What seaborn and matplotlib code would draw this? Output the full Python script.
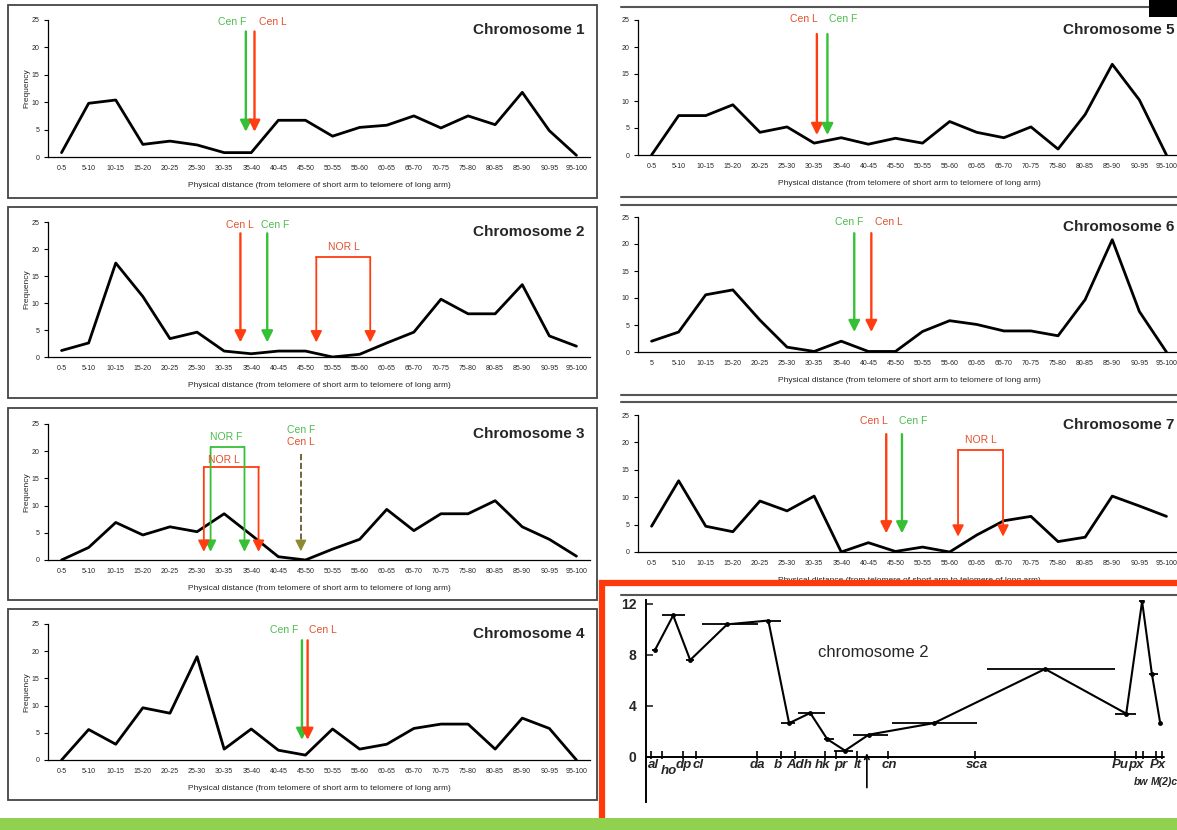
import numpy as np
import pandas as pd
import matplotlib
matplotlib.use('Agg')
import matplotlib.pyplot as plt
import matplotlib.patches as mpatches
from matplotlib.lines import Line2D
import seaborn as sns

# ---- data ----
bins = ['0-5', '5-10', '10-15', '15-20', '20-25', '25-30', '30-35', '35-40',
        '40-45', '45-50', '50-55', '55-60', '60-65', '65-70', '70-75', '75-80',
        '80-85', '85-90', '90-95', '95-100']
bins_chr6 = ['5'] + bins[1:]

chr1_freq = [0.8, 9.8, 10.4, 2.3, 2.9, 2.2, 0.8, 0.8, 6.7, 6.7,
             3.8, 5.4, 5.8, 7.5, 5.3, 7.5, 5.9, 11.8, 4.8, 0.3]
chr2_freq = [1.2, 2.6, 17.4, 11.2, 3.4, 4.6, 1.1, 0.6, 1.1, 1.1,
             0.0, 0.5, 2.6, 4.6, 10.7, 8.0, 8.0, 13.4, 3.9, 2.0]
chr3_freq = [0.0, 2.3, 6.9, 4.6, 6.1, 5.2, 8.5, 4.6, 0.6, 0.0,
             2.0, 3.8, 9.3, 5.4, 8.5, 8.5, 10.9, 6.1, 3.8, 0.7]
chr4_freq = [0.0, 5.6, 2.9, 9.6, 8.6, 19.0, 2.0, 5.7, 1.8, 0.9,
             5.7, 2.0, 2.9, 5.8, 6.6, 6.6, 2.0, 7.7, 5.8, 0.0]
chr5_freq = [0.0, 7.3, 7.3, 9.3, 4.2, 5.2, 2.2, 3.2, 2.0, 3.1,
             2.2, 6.2, 4.2, 3.2, 5.2, 1.1, 7.5, 16.8, 10.2, 0.0]
chr6_freq = [2.0, 3.7, 10.6, 11.5, 5.9, 0.9, 0.1, 2.0, 0.1, 0.1,
             3.8, 5.8, 5.1, 3.9, 3.9, 3.0, 9.7, 20.8, 7.5, 0.0]
chr7_freq = [4.7, 13.0, 4.7, 3.7, 9.3, 7.5, 10.2, 0.0, 1.7, 0.1,
             0.9, 0.0, 3.1, 5.7, 6.5, 1.9, 2.7, 10.2, 8.4, 6.5]

# marker arrows: (bin position, start value, tip value, colour key)
chr1_arrows = [(6.8, 22.9, 4.6, 'F'), (7.12, 22.9, 4.6, 'L')]
chr2_arrows = [(6.6, 22.9, 2.7, 'L'), (7.59, 22.9, 2.7, 'F')]
chr3_arrows = []
chr4_arrows = [(8.87, 22.0, 3.7, 'F'), (9.08, 22.0, 3.7, 'L')]
chr5_arrows = [(6.1, 22.4, 3.7, 'L'), (6.49, 22.4, 3.7, 'F')]
chr6_arrows = [(7.48, 22.0, 3.7, 'F'), (8.11, 22.0, 3.7, 'L')]
chr7_arrows = [(8.66, 21.5, 3.4, 'L'), (9.24, 21.5, 3.4, 'F')]

# NOR brackets: (left pos, right pos, top value, tip value, colour key)
chr2_nor = [(9.4, 11.39, 18.5, 2.7, 'L')]
chr3_nor = [(5.5, 6.75, 20.8, 1.5, 'F'), (5.25, 7.27, 17.1, 1.5, 'L')]
chr7_nor = [(11.31, 12.97, 18.6, 2.8, 'L')]

# labels: (text, pos, value, colour key)
chr1_labels = [('Cen F', 6.28, 24.7, 'F'), ('Cen L', 7.79, 24.7, 'L')]
chr2_labels = [('Cen L', 6.57, 24.4, 'L'), ('Cen F', 7.9, 24.4, 'F'),
               ('NOR L', 10.4, 20.4, 'L')]
chr3_labels = [('NOR F', 6.07, 22.7, 'F'), ('NOR L', 6.0, 18.4, 'L'),
               ('Cen F', 8.83, 23.9, 'F'), ('Cen L', 8.83, 21.6, 'L')]
chr4_labels = [('Cen F', 8.23, 23.9, 'F'), ('Cen L', 9.65, 23.9, 'L')]
chr5_labels = [('Cen L', 5.63, 25.2, 'L'), ('Cen F', 7.06, 25.2, 'F')]
chr6_labels = [('Cen F', 7.28, 24.0, 'F'), ('Cen L', 8.74, 24.0, 'L')]
chr7_labels = [('Cen L', 8.22, 23.9, 'L'), ('Cen F', 9.65, 23.9, 'F'),
               ('NOR L', 12.15, 20.5, 'L')]

# chromosome 3 shared centromere (dashed)
chr3_cen_shared = (8.83, 19.5, 1.6)

# old genetic-map chromosome 2 chart
map_x = [2.4, 7.2, 11.7, 21.5, 32.4, 37.9, 43.5, 48.0,
         52.7, 59.0, 76.2, 105.7, 127.2, 131.4, 134.0, 136.2]
map_y = [8.4, 11.1, 7.6, 10.4, 10.7, 2.65, 3.45, 1.4,
         0.5, 1.75, 2.65, 6.9, 3.4, 12.2, 6.5, 2.65]
map_lo = [1.7, 4.2, 10.7, 14.7, 31.7, 35.7, 40.2, 47.2,
          49.9, 54.9, 65.2, 90.2, 124.2, 130.7, 133.2, 135.8]
map_hi = [2.7, 10.2, 12.7, 29.7, 35.7, 39.5, 47.5, 49.7,
          54.9, 64.2, 87.7, 124.2, 129.7, 131.9, 135.5, 136.6]
genes = ['al', 'ho', 'dp', 'cl', 'da', 'b', 'Adh', 'hk', 'pr', 'lt',
         'cn', 'sca', 'Pu', 'px', 'bw', 'Px', 'M(2)c']
gene_tick = [1.4, 4.2, 9.9, 13.2, 29.4, 35.7, 39.4, 47.4, 50.2, 55.9,
             64.2, 87.2, 124.2, 129.7, 131.7, 135.2, 136.7]
gene_label_x = [1.9, 6.0, 9.9, 13.9, 29.5, 34.9, 40.7, 46.7, 51.5, 56.2,
                64.5, 87.7, 125.7, 129.9, 131.0, 135.5, 137.3]
gene_row = [0, 1, 0, 0, 0, 0, 0, 0, 0, 0, 0, 0, 0, 0, 2, 0, 2]

GREEN = '#35c035'
RED = '#ff3d10'
TXT = {'F': '#4cbc4c', 'L': '#e4502c'}
COL = {'F': GREEN, 'L': RED}

sns.set_style('white')
plt.rcParams['font.family'] = ['Liberation Sans', 'DejaVu Sans']

W, H = 1177, 830
fig = plt.figure(figsize=(W / 100, H / 100), dpi=100)
fig.patch.set_facecolor('white')


def px_axes(x0, y0, x1, y1):
    return fig.add_axes([x0 / W, 1 - y1 / H, (x1 - x0) / W, (y1 - y0) / H])


def arrow(ax, x, y0, y1, color, lw=1.7):
    ax.annotate('', xy=(x, y1), xytext=(x, y0),
                arrowprops=dict(arrowstyle='-|>', color=color, lw=lw,
                                mutation_scale=17, shrinkA=0, shrinkB=0))


def chrom_panel(rect, freq, labels_x, title, arrows, nors, labels, ylab=True):
    ax = px_axes(*rect)
    df = pd.DataFrame({'pos': np.arange(len(freq)), 'freq': freq})
    sns.lineplot(data=df, x='pos', y='freq', ax=ax, color='black', lw=2.0)
    ax.set_xlim(-0.5, 19.5)
    ax.set_ylim(0, 25)
    ax.set_yticks([0, 5, 10, 15, 20, 25])
    ax.set_xticks(np.arange(20))
    ax.set_xticklabels(labels_x, fontsize=5)
    ax.set_xticks(np.arange(-0.5, 20, 1), minor=True)
    ax.tick_params(axis='x', which='major', length=0, pad=6)
    ax.tick_params(axis='x', which='minor', length=3, width=0.8,
                   direction='out', color='black')
    ax.tick_params(axis='y', length=3, width=0.8, direction='out',
                   labelsize=5, pad=3, color='black', left=True)
    sns.despine(ax=ax)
    for s in ['left', 'bottom']:
        ax.spines[s].set_color('black')
        ax.spines[s].set_linewidth(0.9)
    ax.set_xlabel('Physical distance (from telomere of short arm to telomere '
                  'of long arm)', fontsize=6, labelpad=7)
    if ylab:
        ax.set_ylabel('Frequency', fontsize=6, labelpad=1)
    else:
        ax.set_ylabel('')
    ax.text(19.3, 23.2, title, ha='right', va='center', fontsize=11,
            fontweight='bold')
    for x, y0, y1, k in arrows:
        arrow(ax, x, y0, y1, COL[k])
    for xa, xb, top, tip, k in nors:
        ax.plot([xa, xb], [top, top], color=COL[k], lw=1.3)
        arrow(ax, xa, top, tip, COL[k], lw=1.3)
        arrow(ax, xb, top, tip, COL[k], lw=1.3)
    for t, x, y, k in labels:
        ax.text(x, y, t, ha='center', va='center', fontsize=7.5,
                color=TXT[k])
    ax.set_facecolor('none')
    return ax


left_x = (48, 590)
right_x = (638, 1180)

chrom_panel((left_x[0], 20, left_x[1], 157), chr1_freq, bins, 'Chromosome 1',
            chr1_arrows, [], chr1_labels)
chrom_panel((left_x[0], 222, left_x[1], 357), chr2_freq, bins, 'Chromosome 2',
            chr2_arrows, chr2_nor, chr2_labels)
ax3 = chrom_panel((left_x[0], 424, left_x[1], 560), chr3_freq, bins,
                  'Chromosome 3', chr3_arrows, chr3_nor, chr3_labels)
cx, cy0, cy1 = chr3_cen_shared
ax3.plot([cx, cx], [cy0, cy1 + 1.6], ls='--', color='#5a4a1c', lw=1.2)
ax3.annotate('', xy=(cx, cy1), xytext=(cx, cy1 + 1.7),
             arrowprops=dict(arrowstyle='-|>', color='#8e8a30', lw=1.0,
                             mutation_scale=17, shrinkA=0, shrinkB=0))
chrom_panel((left_x[0], 624, left_x[1], 760), chr4_freq, bins, 'Chromosome 4',
            chr4_arrows, [], chr4_labels)
chrom_panel((right_x[0], 20, right_x[1], 155), chr5_freq, bins, 'Chromosome 5',
            chr5_arrows, [], chr5_labels, ylab=False)
chrom_panel((right_x[0], 217, right_x[1], 352), chr6_freq, bins_chr6,
            'Chromosome 6', chr6_arrows, [], chr6_labels, ylab=False)
chrom_panel((right_x[0], 415, right_x[1], 552), chr7_freq, bins, 'Chromosome 7',
            chr7_arrows, chr7_nor, chr7_labels, ylab=False)

# frames of left column
for y0, y1 in [(5, 198), (207, 398), (408, 600), (609, 800)]:
    fig.add_artist(mpatches.Rectangle((8 / W, 1 - y1 / H), 589 / W,
                                      (y1 - y0) / H, transform=fig.transFigure,
                                      fill=False, edgecolor='#444444', lw=1.3,
                                      zorder=3))
# frame lines of right column
for y, xe in [(7, 1149), (197, 1177), (205, 1177), (395, 1177), (402, 1177),
              (595, 1177)]:
    fig.add_artist(Line2D([621 / W, xe / W], [1 - y / H, 1 - y / H],
                          transform=fig.transFigure, color='#555555', lw=1.5,
                          zorder=7))

# red highlight box
fig.add_artist(mpatches.Rectangle((602 / W, 1 - 845 / H), 600 / W, 262 / H,
                                  transform=fig.transFigure, facecolor='white',
                                  edgecolor='none', zorder=4))
fig.add_artist(mpatches.Rectangle((602 / W, 1 - 845 / H), 600 / W, 262 / H,
                                  transform=fig.transFigure, fill=False,
                                  edgecolor='#ff3a0a', lw=4.5, zorder=8))

# old genetic map chart
axm = px_axes(646, 600, 1164, 802)
axm.set_zorder(6)
axm.set_facecolor('none')
mdf = pd.DataFrame({'x': map_x, 'y': map_y})
sns.lineplot(data=mdf, x='x', y='y', ax=axm, color='black', lw=1.5,
             marker='o', markersize=3.5, markeredgewidth=0)
axm.errorbar(map_x, map_y,
             xerr=[np.array(map_x) - np.array(map_lo),
                   np.array(map_hi) - np.array(map_x)],
             fmt='none', ecolor='black', elinewidth=1.3, capsize=0)
axm.set_xlim(0, 137.2)
axm.set_ylim(-3.53, 12.31)
axm.plot([0, 137.2], [0, 0], color='black', lw=1.4, clip_on=False)
axm.vlines(gene_tick, -0.15, 0.45, color='black', lw=1.2, clip_on=False)
for g, gx, r in zip(genes, gene_label_x, gene_row):
    gy = [-0.15, -0.65, -1.6][r]
    fs = 7.5 if r == 2 else 9.5
    axm.text(gx, gy, g, ha='center', va='top', fontsize=fs,
             fontstyle='italic', fontweight='bold', clip_on=False)
axm.annotate('', xy=(58.5, 0.3), xytext=(58.5, -2.4),
             arrowprops=dict(arrowstyle='->', color='black', lw=1.2,
                             mutation_scale=8, shrinkA=0, shrinkB=0))
axm.text(60.2, 8.2, 'chromosome 2', ha='center', va='center', fontsize=12)
axm.set_yticks([0, 4, 8, 12])
axm.set_yticklabels(['0', '4', '8', '12'], fontsize=10, fontweight='bold')
axm.set_xticks([])
axm.tick_params(axis='y', direction='in', length=5, width=1.2, pad=7,
                left=True)
for s in ['top', 'right', 'bottom']:
    axm.spines[s].set_visible(False)
axm.spines['left'].set_color('black')
axm.spines['left'].set_linewidth(1.4)
axm.set_xlabel('')
axm.set_ylabel('')

# green bar and black corner block
fig.add_artist(mpatches.Rectangle((0, 0), 1, 12 / H, transform=fig.transFigure,
                                  facecolor='#92d050', edgecolor='none',
                                  zorder=10))
fig.add_artist(mpatches.Rectangle((1149 / W, 1 - 17 / H), 28 / W, 17 / H,
                                  transform=fig.transFigure, facecolor='black',
                                  edgecolor='none', zorder=10))

fig.savefig('out.png', dpi=100)
